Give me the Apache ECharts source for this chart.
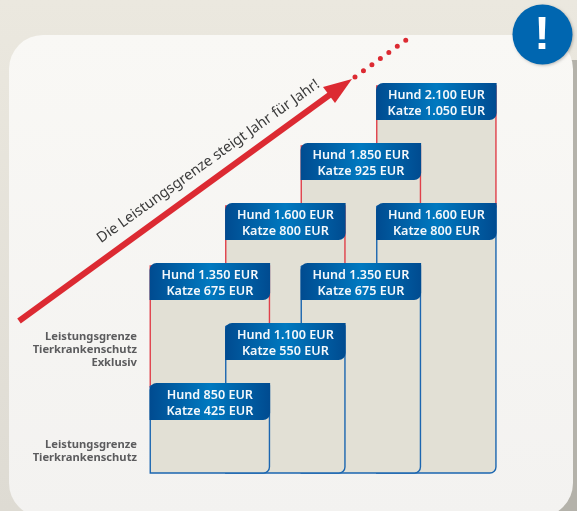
<!DOCTYPE html>
<html>
<head>
    <meta charset="UTF-8">
    <title>Leistungsgrenze</title>
    <script src="https://cdn.jsdelivr.net/npm/echarts@6/dist/echarts.min.js"></script>
    <style>
        html, body { margin: 0; padding: 0; background: #e8e5dc; }
        #chart { width: 577px; height: 511px; }
    </style>
</head>
<body>
<div id="chart"></div>
<script>
    // Stufen von links nach rechts
    var steps = ['1', '2', '3', '4'];
    var hundBasis = [850, 1100, 1350, 1600];
    var katzeBasis = [425, 550, 675, 800];
    var hundExklusiv = [1350, 1600, 1850, 2100];
    var katzeExklusiv = [675, 800, 925, 1050];
    var labelExklusiv = ['Leistungsgrenze', 'Tierkrankenschutz', 'Exklusiv'];
    var labelBasis = ['Leistungsgrenze', 'Tierkrankenschutz'];
    var arrowText = 'Die Leistungsgrenze steigt Jahr für Jahr!';

    var axisMin = 475;
    var colWidth = 120.6;
    var headHeight = 37;
    var font = '"Noto Sans", sans-serif';

    function eur(v) {
        return String(v).replace(/\B(?=(\d{3})+$)/g, '.') + ' EUR';
    }

    var headFill = new echarts.graphic.LinearGradient(0, 0, 1, 0, [
        {offset: 0, color: '#004b90'},
        {offset: 0.5, color: '#0079c0'},
        {offset: 1, color: '#004b90'}
    ]);

    // rechte Spalte zuerst, damit die linke oben liegt
    function buildData(hund, katze, bottom) {
        var rows = [];
        for (var i = steps.length - 1; i >= 0; i--) {
            rows.push([i, bottom ? bottom[i] : axisMin, hund[i], katze[i]]);
        }
        return rows;
    }

    // overlap: Untere Kante verschwindet unter dem Kopf der naechsten Stufe
    function makeColumn(lineColor, radius, overlap) {
        return function (params, api) {
            var top = api.coord([api.value(0), api.value(2)]);
            var low = api.coord([api.value(0), api.value(1)]);
            var left = top[0] - colWidth / 2;
            return {
                type: 'group',
                children: [
                    {
                        type: 'rect',
                        shape: {x: left + 0.7, y: top[1] + 3, width: colWidth - 1.4, height: low[1] - top[1] - 3 + overlap, r: radius},
                        style: {fill: '#e2e0d5', stroke: lineColor, lineWidth: 1.4}
                    },
                    {
                        type: 'rect',
                        shape: {x: left, y: top[1], width: colWidth, height: headHeight, r: [7, 0, 7, 0]},
                        style: {fill: headFill}
                    },
                    {
                        type: 'text',
                        style: {
                            x: left + colWidth / 2, y: top[1] + 12, text: 'Hund ' + eur(api.value(2)),
                            fill: '#f4f8fb', font: '600 12.6px ' + font, align: 'center', verticalAlign: 'middle'
                        }
                    },
                    {
                        type: 'text',
                        style: {
                            x: left + colWidth / 2, y: top[1] + 28, text: 'Katze ' + eur(api.value(3)),
                            fill: '#f4f8fb', font: '600 12.6px ' + font, align: 'center', verticalAlign: 'middle'
                        }
                    }
                ]
            };
        };
    }

    function sideLabel(lines, y) {
        return {
            type: 'text', z: 3,
            style: {
                x: 137, y: y, text: lines.join('\n'), fill: '#5c5c5e',
                font: '700 11.2px ' + font, lineHeight: 13, align: 'right'
            }
        };
    }

    var chart = echarts.init(document.getElementById('chart'), null, {renderer: 'canvas'});
    chart.setOption({
        animation: false,
        grid: {left: 172.1, top: 83, width: 302, height: 390},
        xAxis: {type: 'category', data: steps, show: false},
        yAxis: {type: 'value', min: axisMin, max: 2100, show: false},
        graphic: [
            // Hintergrund
            {
                type: 'rect', z: 0, shape: {x: 0, y: 0, width: 577, height: 511},
                style: {
                    fill: new echarts.graphic.LinearGradient(0, 0, 0, 1, [
                        {offset: 0, color: '#ebe8df'},
                        {offset: 1, color: '#dedbd3'}
                    ])
                }
            },
            {
                type: 'rect', z: 1, shape: {x: 555, y: 60, width: 22, height: 451},
                style: {fill: '#b4b2aa'}
            },
            {
                type: 'rect', z: 2, shape: {x: 9, y: 35, width: 564, height: 482, r: 34},
                style: {
                    fill: new echarts.graphic.LinearGradient(0, 0, 0, 1, [
                        {offset: 0, color: '#f9f8f5'},
                        {offset: 1, color: '#f3f2f0'}
                    ])
                }
            },
            // Pfeil
            {
                type: 'line', z: 3, shape: {x1: 19, y1: 321, x2: 335, y2: 91},
                style: {stroke: '#dc2a32', lineWidth: 6}
            },
            {
                type: 'polygon', z: 3, shape: {points: [[352, 79], [323, 87], [335, 103]]},
                style: {fill: '#dc2a32'}
            },
            {
                type: 'line', z: 3, shape: {x1: 355, y1: 77, x2: 406, y2: 40},
                style: {stroke: '#dc2a32', lineWidth: 5, lineCap: 'round', lineDash: [0, 10.45]}
            },
            {
                type: 'text', z: 3, x: 103, y: 246, rotation: 35.6 * Math.PI / 180,
                style: {text: arrowText, fill: '#3a3a3a', font: '14.5px ' + font, verticalAlign: 'bottom'}
            },
            // Ausrufezeichen
            {
                type: 'circle', z: 4, shape: {cx: 542.5, cy: 34.5, r: 30},
                style: {fill: '#0066b0', shadowColor: 'rgba(0,0,0,0.25)', shadowBlur: 3, shadowOffsetX: 1, shadowOffsetY: 1}
            },
            {
                type: 'text', z: 5, x: 542, y: 36,
                style: {text: '!', fill: '#fff', font: '700 47px "Liberation Sans", sans-serif', align: 'center', verticalAlign: 'middle'}
            },
            sideLabel(labelExklusiv, 330),
            sideLabel(labelBasis, 438)
        ],
        series: [
            {
                type: 'custom', z: 3, clip: false,
                data: buildData(hundExklusiv, katzeExklusiv, hundBasis),
                renderItem: makeColumn('#e0404a', 0, 4)
            },
            {
                type: 'custom', z: 4, clip: false,
                data: buildData(hundBasis, katzeBasis, null),
                renderItem: makeColumn('#1b66b0', [0, 0, 6, 0], 0)
            }
        ]
    });
</script>
</body>
</html>
